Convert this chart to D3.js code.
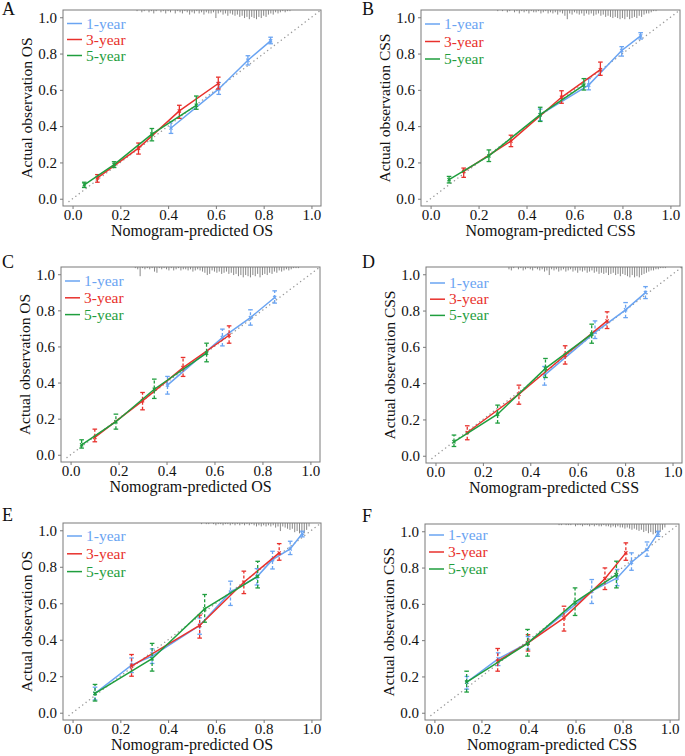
<!DOCTYPE html>
<html>
<head>
<meta charset="utf-8">
<script src="https://cdnjs.cloudflare.com/ajax/libs/d3/7.8.5/d3.min.js"></script>
<style>
  body { margin: 0; background: #fff; }
</style>
</head>
<body>
<svg id="fig" width="685" height="756"></svg>
<script>
// rows: [predicted, observed, lower, upper]
var a1 = [[0.412,0.39,0.36,0.425],[0.612,0.605,0.575,0.64],[0.734,0.763,0.737,0.788],[0.829,0.87,0.854,0.89]];
var a3 = [[0.104,0.115,0.091,0.133],[0.276,0.279,0.246,0.307],[0.447,0.484,0.443,0.515],[0.61,0.635,0.605,0.67]];
var a5 = [[0.049,0.077,0.062,0.091],[0.174,0.188,0.172,0.204],[0.332,0.356,0.319,0.387],[0.518,0.515,0.493,0.566]];

var b1 = [[0.457,0.463,0.43,0.494],[0.659,0.626,0.6,0.662],[0.797,0.817,0.786,0.838],[0.876,0.897,0.88,0.915]];
var b3 = [[0.138,0.151,0.118,0.169],[0.335,0.318,0.287,0.35],[0.546,0.559,0.526,0.595],[0.708,0.711,0.68,0.753]];
var b5 = [[0.077,0.105,0.087,0.123],[0.243,0.236,0.205,0.269],[0.457,0.463,0.426,0.504],[0.639,0.626,0.599,0.662]];

var c1 = [[0.404,0.386,0.336,0.434],[0.633,0.649,0.603,0.696],[0.75,0.76,0.718,0.803],[0.851,0.871,0.84,0.908]];
var c3 = [[0.101,0.096,0.072,0.142],[0.3,0.299,0.249,0.345],[0.469,0.483,0.434,0.539],[0.661,0.662,0.618,0.714]];
var c5 = [[0.046,0.055,0.037,0.083],[0.189,0.183,0.142,0.225],[0.349,0.363,0.312,0.419],[0.567,0.563,0.515,0.618]];

var d1 = [[0.46,0.444,0.389,0.492],[0.673,0.68,0.646,0.743],[0.802,0.804,0.761,0.844],[0.886,0.899,0.866,0.932]];
var d3s = [[0.134,0.128,0.088,0.165],[0.352,0.339,0.284,0.389],[0.547,0.554,0.505,0.606],[0.724,0.743,0.701,0.793]];
var d5 = [[0.078,0.077,0.051,0.114],[0.262,0.229,0.18,0.279],[0.464,0.481,0.431,0.536],[0.659,0.67,0.62,0.725]];

var e1 = [[0.094,0.106,0.07,0.14],[0.247,0.261,0.22,0.3],[0.333,0.31,0.27,0.35],[0.532,0.478,0.43,0.52],[0.661,0.661,0.588,0.721],[0.772,0.745,0.7,0.79],[0.837,0.839,0.788,0.885],[0.911,0.898,0.867,0.94],[0.962,0.982,0.964,0.995]];
var e3 = [[0.247,0.255,0.2,0.319],[0.532,0.478,0.409,0.535],[0.717,0.715,0.653,0.776],[0.865,0.876,0.836,0.927]];
var e5 = [[0.094,0.106,0.064,0.155],[0.333,0.296,0.228,0.38],[0.553,0.569,0.496,0.648],[0.775,0.748,0.684,0.83]];

var f1 = [[0.138,0.169,0.13,0.2],[0.271,0.297,0.26,0.33],[0.398,0.385,0.35,0.42],[0.669,0.67,0.602,0.734],[0.777,0.743,0.7,0.79],[0.838,0.829,0.785,0.881],[0.904,0.899,0.862,0.941],[0.951,0.99,0.972,1.0]];
var f3 = [[0.269,0.284,0.229,0.354],[0.398,0.385,0.34,0.43],[0.551,0.523,0.45,0.587],[0.725,0.738,0.679,0.798],[0.814,0.881,0.84,0.936]];
var f5 = [[0.137,0.169,0.114,0.229],[0.396,0.382,0.312,0.459],[0.598,0.609,0.536,0.688],[0.774,0.761,0.688,0.835]];

// distribution of predictions (top rug), one value per 0.01 starting at rugStart
var rugStart = [0.27, 0.28, 0.27, 0.31, 0.54, 0.53];
var rugA = [1,0,2,1,0,2,1,3,1,0,2,1,3,1,2,0,3,1,2,3,1,2,4,2,3,1,3,2,4,2,3,3,2,7,3,2,4,3,5,3,4,5,4,6,5,7,6,8,6,7,8,6,7,5,6,4,3,4,2,3,2,1,2,1,1];
var rugB = [1,0,1,0,2,1,0,2,1,3,1,2,1,3,1,2,2,1,3,2,1,3,2,3,2,4,2,3,5,8,3,4,2,3,4,3,5,3,4,3,5,4,3,5,4,6,5,6,7,6,7,8,7,8,6,8,7,6,7,5,6,4,3,3,2,1,1];
var rugC = [1,2,8,1,2,1,2,1,4,5,1,2,1,2,3,1,3,2,1,3,2,2,3,2,4,3,2,3,4,5,7,6,3,4,5,4,6,5,4,6,5,7,6,8,7,9,7,8,9,7,8,6,9,7,6,7,5,6,4,5,3,4,3,2,3,2,1,1,1];
var rugD = [2,3,1,0,2,1,3,2,1,2,3,1,2,3,2,4,3,7,2,3,2,4,3,2,4,3,2,4,3,5,3,4,3,5,4,3,5,4,6,5,6,5,7,6,5,7,6,8,6,7,8,9,7,9,8,9,7,6,5,4,3,3,2,2,1,1,1];
var rugE = [1,0,1,1,0,1,2,1,1,2,1,1,2,1,2,1,2,1,2,1,2,1,2,3,2,3,2,3,2,3,2,4,3,7,3,4,5,6,5,8,7,9,8,9,6,3];
var rugF = [1,1,0,1,1,1,0,2,1,1,2,1,1,2,1,2,1,2,2,1,2,2,3,2,3,2,3,3,4,3,4,5,4,5,6,5,7,6,8,7,9,8,9,7,5,3];

var seriesNames = ["1-year", "3-year", "5-year"];
var seriesColors = ["#6aa4f2", "#e8312c", "#1f9e3e"];
var tickVals = [0, 0.2, 0.4, 0.6, 0.8, 1.0];
var panelLetters = ["A", "B", "C", "D", "E", "F"];
var xTitles = ["Nomogram-predicted OS", "Nomogram-predicted CSS"];
var yTitles = ["Actual observation OS", "Actual observation CSS"];

// layout: plot box [left, top, right, bottom], legend offsets
var panels = [
  { box: [63, 10, 321, 206], data: [a1, a3, a5], rug: rugA, kind: 0, dashed: false, legTop: 13.5, legGap: 16, lab: [2, 15] },
  { box: [421, 10, 680, 206], data: [b1, b3, b5], rug: rugB, kind: 1, dashed: false, legTop: 14, legGap: 17.5, lab: [362, 15] },
  { box: [61, 267, 320, 462], data: [c1, c3, c5], rug: rugC, kind: 0, dashed: true,  legTop: 14, legGap: 16.8, lab: [2, 268] },
  { box: [426, 267, 682, 463], data: [d1, d3s, d5], rug: rugD, kind: 1, dashed: true, legTop: 16, legGap: 16.2, lab: [362, 268] },
  { box: [63, 523, 321, 720], data: [e1, e3, e5], rug: rugE, kind: 0, dashed: true,  legTop: 13, legGap: 17.8, lab: [2, 521] },
  { box: [425, 524, 679, 720], data: [f1, f3, f5], rug: rugF, kind: 1, dashed: true,  legTop: 11, legGap: 17,   lab: [362, 522] }
];

var svg = d3.select("#fig");

function serifText(sel, size) {
  return sel.attr("font-family", "Liberation Serif")
    .style("font-family", "'Liberation Serif'")
    .style("font-size", size + "px");
}

panels.forEach(function(p, idx) {
  var L = p.box[0], T = p.box[1], R = p.box[2], B = p.box[3];
  var x = d3.scaleLinear().domain([-0.04, 1.04]).range([L, R]);
  var y = d3.scaleLinear().domain([-0.04, 1.04]).range([B, T]);
  var g = svg.append("g");

  var clipId = "clip" + idx;
  g.append("clipPath").attr("id", clipId)
    .append("rect").attr("x", L).attr("y", T).attr("width", R - L).attr("height", B - T);
  var inner = g.append("g").attr("clip-path", "url(#" + clipId + ")");

  // rug of predictions hanging from the top border
  inner.selectAll("line.rug").data(p.rug).enter()
    .append("line")
    .attr("class", "rug")
    .attr("x1", function(d, i) { return x(rugStart[idx] + i * 0.01); })
    .attr("x2", function(d, i) { return x(rugStart[idx] + i * 0.01); })
    .attr("y1", T)
    .attr("y2", function(d) { return T + d * 1.15; })
    .attr("stroke", "#888")
    .attr("stroke-width", 1);

  // ideal line
  inner.append("line")
    .attr("x1", x(-0.015)).attr("y1", y(-0.015))
    .attr("x2", x(1.04)).attr("y2", y(1.04))
    .attr("stroke", "#9a9a9a")
    .attr("stroke-width", 1.4)
    .attr("stroke-linecap", "round")
    .attr("stroke-dasharray", "0.1,4.2");

  var line = d3.line().x(function(d) { return x(d[0]); }).y(function(d) { return y(d[1]); });

  p.data.forEach(function(rows, s) {
    var col = seriesColors[s];
    var sg = inner.append("g");
    sg.append("path").datum(rows)
      .attr("d", line)
      .attr("fill", "none")
      .attr("stroke", col)
      .attr("stroke-width", 1.5);

    // error bars
    sg.selectAll("line.eb").data(rows).enter().append("line")
      .attr("x1", function(d) { return x(d[0]); })
      .attr("x2", function(d) { return x(d[0]); })
      .attr("y1", function(d) { return y(d[2]); })
      .attr("y2", function(d) { return y(d[3]); })
      .attr("stroke", col)
      .attr("stroke-width", 1.3)
      .attr("stroke-dasharray", p.dashed ? "3,2" : null);
    sg.selectAll("line.capHi").data(rows).enter().append("line")
      .attr("x1", function(d) { return x(d[0]) - 2.3; })
      .attr("x2", function(d) { return x(d[0]) + 2.3; })
      .attr("y1", function(d) { return y(d[3]); })
      .attr("y2", function(d) { return y(d[3]); })
      .attr("stroke", col).attr("stroke-width", 1.3);
    sg.selectAll("line.capLo").data(rows).enter().append("line")
      .attr("x1", function(d) { return x(d[0]) - 2.3; })
      .attr("x2", function(d) { return x(d[0]) + 2.3; })
      .attr("y1", function(d) { return y(d[2]); })
      .attr("y2", function(d) { return y(d[2]); })
      .attr("stroke", col).attr("stroke-width", 1.3);

    // point markers
    sg.selectAll("path.pt").data(rows).enter().append("path")
      .attr("d", function(d) {
        var cx = x(d[0]), cy = y(d[1]), r = 1.6;
        return "M" + (cx - r) + "," + (cy - r) + "L" + (cx + r) + "," + (cy + r) +
               "M" + (cx - r) + "," + (cy + r) + "L" + (cx + r) + "," + (cy - r);
      })
      .attr("stroke", col)
      .attr("stroke-width", 1.2);
  });

  // box
  g.append("rect")
    .attr("x", L).attr("y", T).attr("width", R - L).attr("height", B - T)
    .attr("fill", "none").attr("stroke", "#7a7a7a").attr("stroke-width", 1);

  // axes
  var xAxis = d3.axisBottom(x).tickValues(tickVals).tickFormat(d3.format(".1f")).tickSize(3).tickPadding(0);
  var yAxis = d3.axisLeft(y).tickValues(tickVals).tickFormat(d3.format(".1f")).tickSize(3).tickPadding(3);
  var gx = g.append("g").attr("transform", "translate(0," + B + ")").call(xAxis);
  var gy = g.append("g").attr("transform", "translate(" + L + ",0)").call(yAxis);
  [gx, gy].forEach(function(ax) {
    ax.attr("font-family", "Liberation Serif");
    ax.select(".domain").remove();
    ax.selectAll(".tick line").attr("stroke", "#7a7a7a");
    serifText(ax.selectAll(".tick text").attr("fill", "#111"), 15);
  });

  // axis titles
  serifText(g.append("text"), 16)
    .attr("x", (L + R) / 2)
    .attr("y", B + 30)
    .attr("text-anchor", "middle")
    .attr("fill", "#111")
    .text(xTitles[p.kind]);
  serifText(g.append("text"), 15.5)
    .attr("transform", "translate(" + (L - 31) + "," + ((T + B) / 2) + ") rotate(-90)")
    .attr("text-anchor", "middle")
    .attr("fill", "#111")
    .text(yTitles[p.kind]);

  // panel letter
  serifText(g.append("text"), 18)
    .attr("x", p.lab[0]).attr("y", p.lab[1])
    .attr("fill", "#111")
    .text(panelLetters[idx]);

  // legend
  seriesNames.forEach(function(name, s) {
    var ly = T + p.legTop + s * p.legGap;
    g.append("line")
      .attr("x1", L + 4).attr("x2", L + 19)
      .attr("y1", ly).attr("y2", ly)
      .attr("stroke", seriesColors[s]).attr("stroke-width", 1.5);
    serifText(g.append("text"), 15.5)
      .attr("x", L + 23).attr("y", ly + 5)
      .attr("fill", seriesColors[s])
      .text(name);
  });
});
</script>
</body>
</html>
